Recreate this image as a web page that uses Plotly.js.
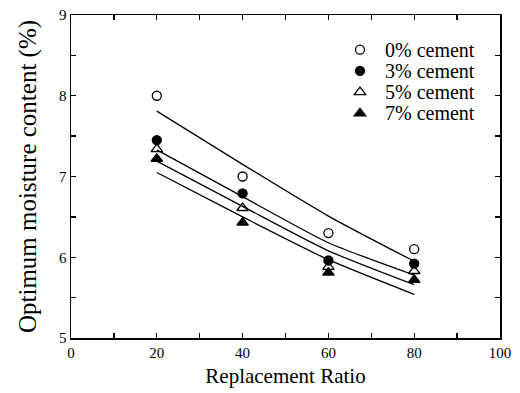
<!DOCTYPE html>
<html><head><meta charset="utf-8">
<script src="https://cdn.plot.ly/plotly-3.0.1.min.js"></script>
<style>html,body{margin:0;padding:0;background:#fff}#c{width:520px;height:393px}</style>
</head><body><div id="c"></div>
<script>
const ratio = [20, 40, 60, 80];
const seriesNames = ['0% cement', '3% cement', '5% cement', '7% cement'];
const omc0 = [8.00, 7.00, 6.30, 6.10];
const omc3 = [7.45, 6.79, 5.96, 5.92];
const omc5 = [7.34, 6.61, 5.88, 5.83];
const omc7 = [7.22, 6.43, 5.81, 5.72];
const fit0 = [7.81, 7.15, 6.51, 5.95];
const fit3 = [7.33, 6.75, 6.18, 5.78];
const fit5 = [7.19, 6.63, 6.08, 5.66];
const fit7 = [7.05, 6.50, 5.97, 5.54];
const xTicks = [0,10,20,30,40,50,60,70,80,90,100];
const xTickText = ['0','','20','','40','','60','','80','','100'];
const yTicks = [5,5.5,6,6.5,7,7.5,8,8.5,9];
const yTickText = ['5','','6','','7','','8','','9'];

const FONT = 'Liberation Serif, Times New Roman, serif';
const markers = [
  {symbol:'circle-open', size:9},
  {symbol:'circle', size:9},
  {symbol:'triangle-up-open', size:10},
  {symbol:'triangle-up', size:10}
];
const obs = [omc0, omc3, omc5, omc7];
const fits = [fit0, fit3, fit5, fit7];
const traces = [];
fits.forEach(f => traces.push({x: ratio, y: f, mode:'lines', showlegend:false,
  line:{color:'#000', width:1.3, shape:'spline', smoothing:0.6}, hoverinfo:'skip'}));
// legend symbols come from the legend; their labels are drawn as annotations (tight rows as in the original)
obs.forEach((o,i) => traces.push({x: ratio, y: o, mode:'markers', name: '', meta: seriesNames[i],
  legendgroup: seriesNames[i],
  marker:{symbol:markers[i].symbol, size:markers[i].size, color:'#000', line:{color:'#000', width:1.3}}}));

const annotations = seriesNames.map((n,i) => ({
  xref:'paper', yref:'paper', x:0.727, y:0.892 - i*0.065, xanchor:'left', yanchor:'middle',
  text:n, showarrow:false, font:{family:FONT, size:20, color:'#000'}
}));

const axisCommon = {showgrid:false, zeroline:false, showline:true, linecolor:'#000', linewidth:1.5,
  mirror:'ticks', ticks:'inside', ticklen:5, tickwidth:1.3, tickcolor:'#000',
  tickfont:{family:FONT, size:15, color:'#000'}, tickmode:'array'};

const layout = {
  width:520, height:393,
  margin:{l:71, r:20, t:15, b:55},
  paper_bgcolor:'#fff', plot_bgcolor:'#fff',
  font:{family:FONT, color:'#000'},
  xaxis: Object.assign({}, axisCommon, {range:[0,100], tickvals:xTicks, ticktext:xTickText,
    title:{text:'Replacement Ratio', font:{family:FONT, size:21, color:'#000'}, standoff:9}}),
  yaxis: Object.assign({}, axisCommon, {range:[5,9], tickvals:yTicks, ticktext:yTickText,
    title:{text:'Optimum moisture content (%)', font:{family:FONT, size:25, color:'#000'}, standoff:15}}),
  legend:{x:0.627, y:0.941, xanchor:'left', yanchor:'top', bgcolor:'rgba(0,0,0,0)',
    font:{family:FONT, size:14, color:'#000'}, tracegroupgap:0},
  annotations: annotations,
  showlegend:true
};
Plotly.newPlot('c', traces, layout, {displayModeBar:false, staticPlot:true});
</script></body></html>
